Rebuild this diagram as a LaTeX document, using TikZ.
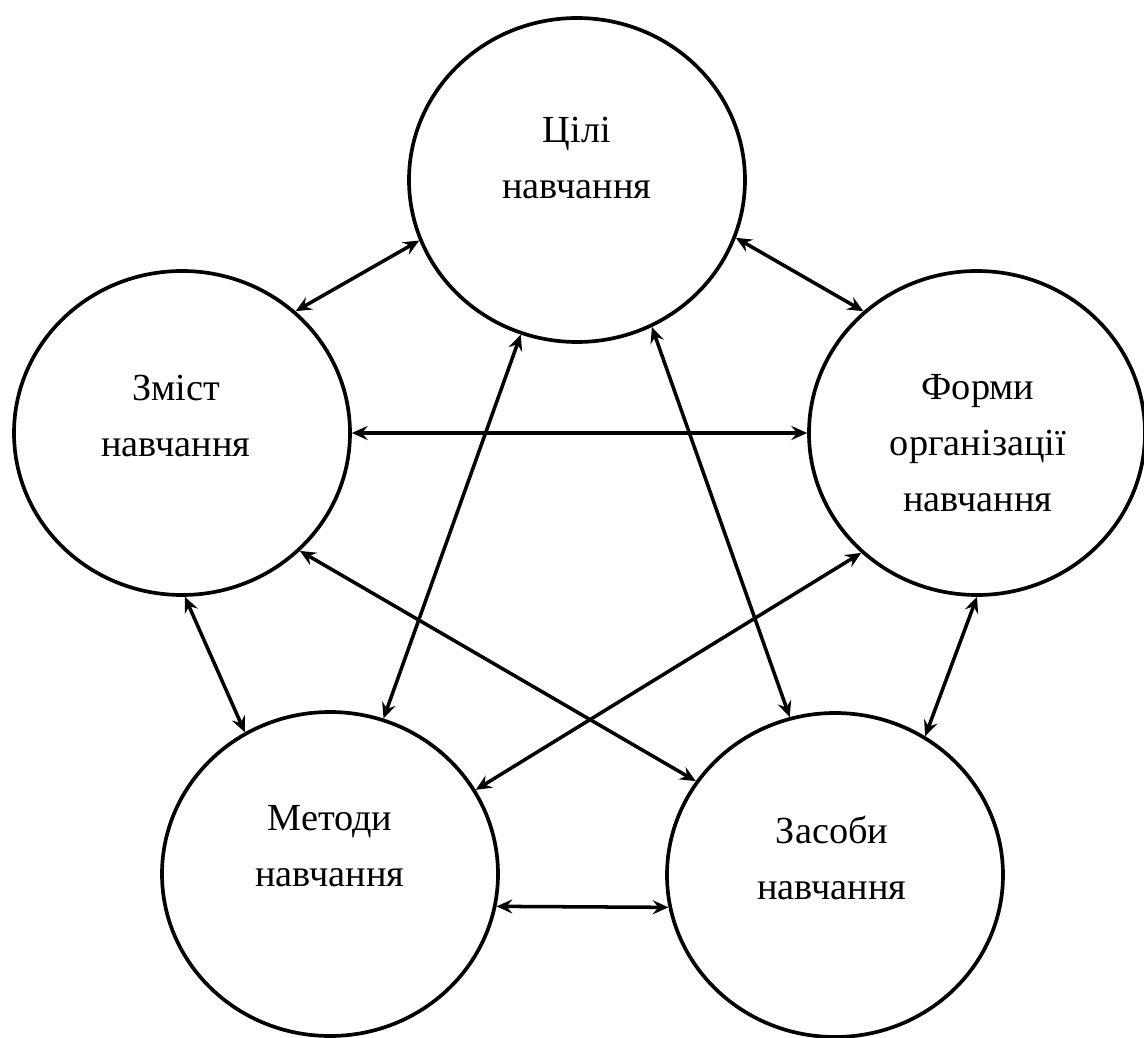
\documentclass[tikz,border=0pt]{standalone}
\usepackage{fontspec}
\setmainfont{Liberation Serif}
\usetikzlibrary{arrows.meta,shapes.geometric}

\begin{document}
\begin{tikzpicture}[line width=2.1pt,
   part/.style={ellipse,draw,minimum width=6.72cm,minimum height=6.48cm,inner sep=0pt},
   txt/.style={align=center,font=\fontsize{21.8}{32}\selectfont},
   link/.style={line width=2pt,{Stealth[length=9pt,width=8pt,inset=3.2pt]}-{Stealth[length=9pt,width=8pt,inset=3.2pt]}}]
   \useasboundingbox (0,0) rectangle (22.88,20.74);
   % circles
   \node[part] (G) at (11.54,17.14) {};
   \node[part] (Z) at (3.64,12.08) {};
   \node[part] (F) at (19.54,12.08) {};
   \node[part] (M) at (6.60,3.26) {};
   \node[part] (S) at (16.70,3.24) {};
   % texts
   \node[txt] (Gt) at (11.54,17.58) {Цілі\\навчання};
   \node[txt] (Zt) at (3.52,12.42) {Зміст\\навчання};
   \node[txt] (Ft) at (19.56,11.88) {Форми\\організації\\навчання};
   \node[txt] (Mt) at (6.60,3.82) {Методи\\навчання};
   \node[txt] (St) at (16.64,3.58) {Засоби\\навчання};
   % links
   \draw[link] (G.201) -- (Z.47);
   \draw[link] (G.-20) -- (F.133);
   \draw[link] (Z.0) -- (F.180);
   \draw[link] (G.250) -- (M.71);
   \draw[link] (G.-63) -- (S.106);
   \draw[link] (Z.271) -- (M.121);
   \draw[link] (Z.-45) -- (S.146);
   \draw[link] (F.226) -- (M.30);
   \draw[link] (F.270) -- (S.57);
   \draw[link] (M.-11) -- (S.191);
\end{tikzpicture}
\end{document}
